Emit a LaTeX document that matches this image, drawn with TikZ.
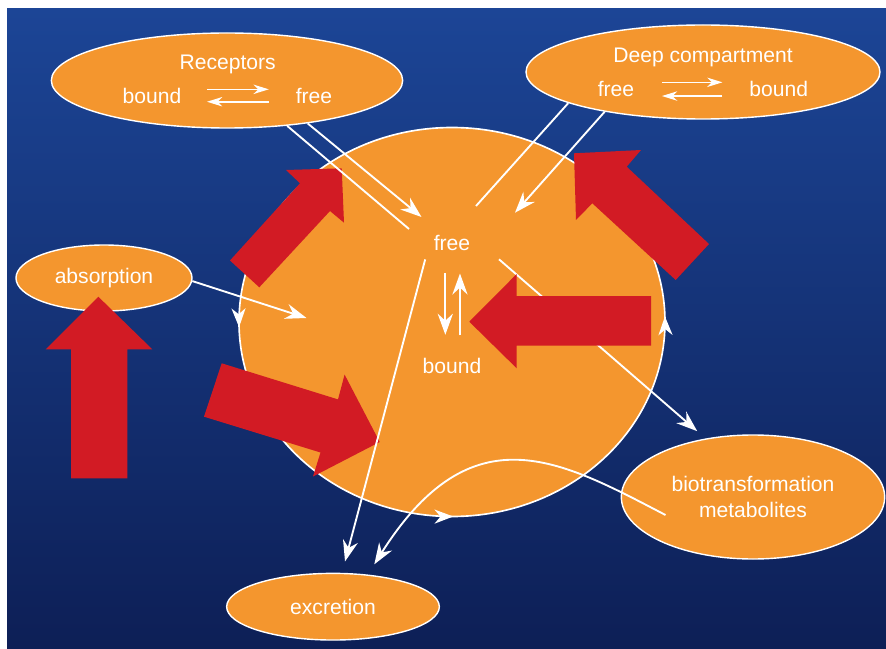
\documentclass[tikz,border=0pt]{standalone}
\usepackage{fontspec}
\setmainfont{Liberation Sans}
\usetikzlibrary{arrows.meta,shapes.geometric,decorations.markings}
\definecolor{bgtop}{RGB}{28,69,150}
\definecolor{bgbot}{RGB}{13,31,86}
\definecolor{orng}{RGB}{244,150,46}
\definecolor{redarr}{RGB}{210,27,36}

\begin{document}
\begin{tikzpicture}[x=0.03cm,y=-0.03cm,
    comp/.style={ellipse,draw=white,line width=1.2pt,fill=orng,inner sep=0pt,
      text=white,align=center,font=\fontsize{18}{22}\selectfont},
    lbl/.style={text=white,inner sep=0pt,font=\fontsize{18}{22}\selectfont},
    wline/.style={white,line width=1.6pt},
    warrow/.style={wline,-{Stealth[length=18pt,width=13pt,inset=6pt]}},
    eqarrow/.style={wline,line width=1.3pt,-{Stealth[length=13pt,width=8pt,inset=4pt]}}]
	\useasboundingbox (0,0) rectangle (886,649);
	\fill[white] (0,0) rectangle (886,649);
	\shade[top color=bgtop,bottom color=bgbot] (7,9) rectangle (886,649);

	% central compartment
	\draw[white,line width=1.4pt,fill=orng,postaction={decorate},
	  decoration={markings,
	    mark=at position 0.249 with {\arrowreversed{Stealth[length=16pt,width=12pt,inset=5pt]}},
	    mark=at position 0.496 with {\arrowreversed{Stealth[length=16pt,width=12pt,inset=5pt]}},
	    mark=at position 0.9956 with {\arrowreversed{Stealth[length=16pt,width=12pt,inset=5pt]}}}]
	  (452,322) ellipse (213 and 194.5);

	\node[comp,minimum width=10.54cm,minimum height=2.85cm] (rec) at (227,80.5) {};
	\node[comp,minimum width=10.62cm,minimum height=2.82cm] (deep) at (703,72) {};
	\node[comp,minimum width=5.28cm,minimum height=1.98cm] (abs) at (104,278) {absorption};
	\node[comp,minimum width=6.38cm,minimum height=2cm] (exc) at (333,606.7) {excretion};
	\node[comp,minimum width=7.9cm,minimum height=3.72cm] (bio) at (753,497) {biotransformation\\metabolites};

	\coordinate (fbio) at (499,259.3);
	\draw[warrow,shorten >=9.5pt] (fbio) -- (bio.129);

	% red arrows
	\fill[redarr] (98.3,296.7) -- (152.3,349.3) -- (127.3,349.3) -- (127.3,478.3) -- (71,478.3) -- (71,349.3) -- (45.7,349.3) -- cycle;
	\fill[redarr] (341.7,168.3) -- (286,170) -- (300,183.3) -- (230,260.5) -- (259.3,287.3) -- (330,211) -- (344,222.7) -- cycle;
	\fill[redarr] (574,153.3) -- (641,150) -- (626.7,166.7) -- (709,244) -- (675.7,280) -- (592.3,203.3) -- (576,220) -- cycle;
	\fill[redarr] (469.3,321.7) -- (516.7,274) -- (516.7,296) -- (651,296) -- (651,345.5) -- (516.7,345.5) -- (516.7,368.3) -- cycle;
	\fill[redarr] (379.7,442) -- (313,476.5) -- (320.5,452.5) -- (204,416.7) -- (221.7,363.3) -- (338,399.4) -- (344.6,374.6) -- cycle;

	\node[lbl] (rectitle) at (227.7,64.5) {Receptors};
	\node[lbl] (recb) at (152,96) {bound};
	\node[lbl] (recf) at (314,96) {free};
	\node[lbl] (deeptitle) at (703,57.2) {Deep compartment};
	\node[lbl] (deepf) at (616,89) {free};
	\node[lbl] (deepb) at (778.7,89) {bound};
	\node[lbl] (free) at (452,243.3) {free};
	\node[lbl] (bound) at (452,365.7) {bound};

	\draw[eqarrow,shorten <=21.7pt,shorten >=22.9pt] ([yshift=5.7pt]recb.east) -- ([yshift=5.7pt]recf.west);
	\draw[eqarrow,shorten <=22.9pt,shorten >=21.7pt] ([yshift=-4.9pt]recf.west) -- ([yshift=-4.9pt]recb.east);
	\draw[eqarrow,shorten <=23.5pt,shorten >=22.8pt] ([yshift=5.7pt]deepf.east) -- ([yshift=5.7pt]deepb.west);
	\draw[eqarrow,shorten <=22.8pt,shorten >=23.5pt] ([yshift=-6pt]deepb.west) -- ([yshift=-6pt]deepf.east);
	\draw[warrow,shorten <=18.5pt,shorten >=19.6pt] ([xshift=-5.7pt]free.south) -- ([xshift=-5.7pt]bound.north);
	\draw[warrow,shorten <=19pt,shorten >=19pt] ([xshift=6.8pt]bound.north) -- ([xshift=6.8pt]free.south);

	\coordinate (rfree1) at (409,229);
	\coordinate (rfree2) at (421.5,217);
	\coordinate (dfree1) at (476,206);
	\coordinate (dfree2) at (515,212.7);
	\coordinate (abstip) at (306.5,318);
	\coordinate (fexc) at (425.2,259.4);
	\coordinate (biostart) at (665.5,515);
	\coordinate (exctip) at (374.3,564.3);

	\draw[wline] (rec.-37.8) -- (rfree1);
	\draw[warrow] (rec.-28.2) -- (rfree2);
	\draw[wline] (deep.193.9) -- (dfree1);
	\draw[warrow] (deep.202.3) -- (dfree2);
	\draw[warrow] (abs.-2.6) -- (abstip);
	\draw[warrow,shorten >=10pt] (fexc) -- (exc);
	\draw[warrow] (biostart) .. controls (560,460) and (472,410) .. (exctip);
\end{tikzpicture}
\end{document}
